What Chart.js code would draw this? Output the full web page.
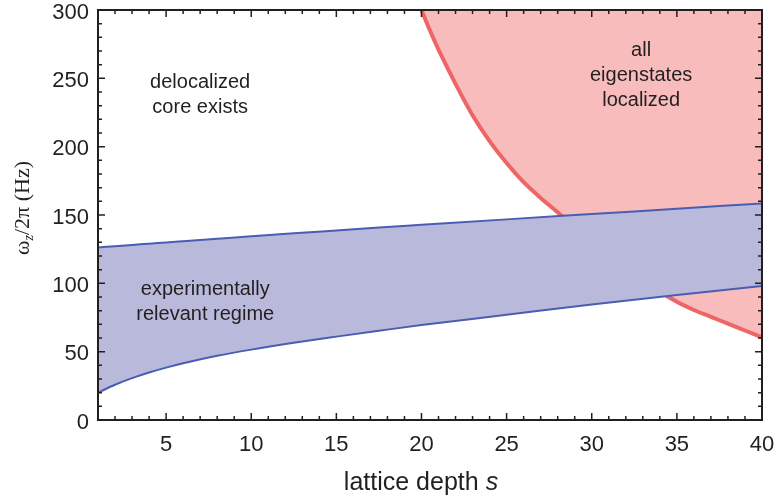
<!DOCTYPE html>
<html>
<head>
<meta charset="utf-8">
<script src="https://cdn.jsdelivr.net/npm/chart.js@4.4.0/dist/chart.umd.min.js"></script>
<style>
    html, body { margin: 0; padding: 0; background: #fff; }
    #wrap { width: 778px; height: 500px; }
</style>
</head>
<body>
<div id="wrap"><canvas id="chart"></canvas></div>
<script>
// lattice depth s sampled for the experimental band
const bandDepth = [1, 2, 3, 4, 5, 6, 8, 10, 12.5, 15, 17.5, 20, 25, 30, 35, 40]
const bandLower = [20, 25.8, 30.6, 34.7, 38.3, 41.5, 47, 51.5, 56.5, 61, 65.3, 69.5, 77, 84.5, 91.5, 98]
const bandUpper = [126.3, 127.2, 128.1, 129, 129.9, 130.8, 132.6, 134.4, 136.6, 138.7, 140.8, 142.8, 146.8, 150.7, 154.6, 158.5]

// boundary above which all eigenstates are localized
const redDepth = [20, 20.5, 21, 22, 23, 24, 25, 26, 27, 28, 29, 30, 31, 32, 33, 34, 35, 36, 37, 38, 39, 40]
const redBoundary = [300, 285, 271, 246, 223, 204, 188, 174, 162.5, 152, 141, 131, 121, 112, 103, 94, 86.5, 80.5, 75.5, 70.5, 65.5, 60.5]

const xTicks = [5, 10, 15, 20, 25, 30, 35, 40]
const yTicks = [0, 50, 100, 150, 200, 250, 300]

const regionLabels = [
    {lines: ['delocalized', 'core exists'], s: 7.0, y: 238},
    {lines: ['all', 'eigenstates', 'localized'], s: 32.9, y: 252},
    {lines: ['experimentally', 'relevant regime'], s: 7.3, y: 86.5}
]

const sans = "'Liberation Sans', Arial, Helvetica, sans-serif"
const ink = '#231f20'

const toPoints = (xs, ys) => xs.map((x, i) => ({x: x, y: ys[i]}))

// frame with inward ticks on all four sides
const framePlugin = {
    id: 'frame',
    afterDraw(chart) {
        const {ctx, chartArea: a, scales: {x, y}} = chart
        ctx.save()
        ctx.strokeStyle = ink
        ctx.lineWidth = 1.5
        ctx.beginPath()
        for (let s = 1; s <= 40; s++) {
            const px = x.getPixelForValue(s)
            const len = s % 5 === 0 ? 7 : 4
            ctx.moveTo(px, a.bottom); ctx.lineTo(px, a.bottom - len)
            ctx.moveTo(px, a.top); ctx.lineTo(px, a.top + len)
        }
        for (let v = 0; v <= 300; v += 10) {
            const py = y.getPixelForValue(v)
            const len = v % 50 === 0 ? 7 : 4
            ctx.moveTo(a.left, py); ctx.lineTo(a.left + len, py)
            ctx.moveTo(a.right, py); ctx.lineTo(a.right - len, py)
        }
        ctx.stroke()
        ctx.lineWidth = 2
        ctx.strokeRect(a.left, a.top, a.right - a.left, a.bottom - a.top)

        // x axis title with italic s
        const base = 490
        ctx.fillStyle = ink
        ctx.textBaseline = 'alphabetic'
        ctx.font = `25px ${sans}`
        const t1 = 'lattice depth '
        const w1 = ctx.measureText(t1).width
        ctx.font = `italic 25px ${sans}`
        const w2 = ctx.measureText('s').width
        let start = 421 - (w1 + w2) / 2
        ctx.font = `25px ${sans}`
        ctx.textAlign = 'left'
        ctx.fillText(t1, start, base)
        ctx.font = `italic 25px ${sans}`
        ctx.fillText('s', start + w1, base)

        // y axis title, serif, rotated
        const serif = "'Liberation Serif', 'DejaVu Serif', serif"
        ctx.translate(29, 208)
        ctx.rotate(-Math.PI / 2)
        const parts = [
            {t: 'ω', f: `22px ${serif}`, dy: 0},
            {t: 'z', f: `italic 14px ${serif}`, dy: 4},
            {t: '/2π (Hz)', f: `22px ${serif}`, dy: 0}
        ]
        let total = 0
        parts.forEach(p => { ctx.font = p.f; p.w = ctx.measureText(p.t).width; total += p.w })
        let cx = -total / 2
        parts.forEach(p => {
            ctx.font = p.f
            ctx.fillText(p.t, cx, p.dy)
            cx += p.w
        })
        ctx.restore()
    }
}

// region annotations placed in data coordinates
const labelPlugin = {
    id: 'regionLabels',
    afterDatasetsDraw(chart) {
        const {ctx, scales: {x, y}} = chart
        ctx.save()
        ctx.fillStyle = ink
        ctx.font = `20px ${sans}`
        ctx.textAlign = 'center'
        ctx.textBaseline = 'middle'
        const lh = 25
        regionLabels.forEach(r => {
            const px = x.getPixelForValue(r.s)
            const py = y.getPixelForValue(r.y)
            const top = py - (r.lines.length - 1) * lh / 2
            r.lines.forEach((line, i) => ctx.fillText(line, px, top + i * lh))
        })
        ctx.restore()
    }
}

new Chart(document.getElementById('chart'), {
    type: 'line',
    data: {
        datasets: [
            {
                label: 'lower',
                data: toPoints(bandDepth, bandLower),
                borderColor: '#4b5db3',
                borderWidth: 2,
                pointRadius: 0,
                cubicInterpolationMode: 'monotone',
                fill: false
            },
            {
                label: 'upper',
                data: toPoints(bandDepth, bandUpper),
                borderColor: '#4b5db3',
                borderWidth: 2,
                pointRadius: 0,
                cubicInterpolationMode: 'monotone',
                backgroundColor: '#b9badb',
                fill: 0
            },
            {
                label: 'localized',
                data: toPoints(redDepth, redBoundary),
                borderColor: '#ee6566',
                borderWidth: 4,
                pointRadius: 0,
                tension: 0.3,
                backgroundColor: '#f8bcbd',
                fill: 'end'
            }
        ]
    },
    options: {
        responsive: true,
        maintainAspectRatio: false,
        animation: false,
        events: [],
        layout: {padding: {top: 10, right: 16, left: 0, bottom: 0}},
        plugins: {
            legend: {display: false},
            tooltip: {enabled: false}
        },
        scales: {
            x: {
                type: 'linear',
                min: 1,
                max: 40,
                afterBuildTicks: axis => { axis.ticks = xTicks.map(v => ({value: v})) },
                afterFit: axis => {
                    axis.height = 80
                    axis.paddingLeft = 0
                    axis.paddingRight = 0
                },
                grid: {display: false, drawTicks: false},
                border: {display: false},
                ticks: {color: ink, font: {family: sans, size: 22}, padding: 12, maxRotation: 0}
            },
            y: {
                min: 0,
                max: 300,
                afterBuildTicks: axis => { axis.ticks = yTicks.map(v => ({value: v})) },
                afterFit: axis => {
                    axis.width = 98
                    axis.paddingTop = 0
                    axis.paddingBottom = 0
                },
                grid: {display: false, drawTicks: false},
                border: {display: false},
                ticks: {color: ink, font: {family: sans, size: 22}, padding: 9, labelOffset: 2.5}
            }
        }
    },
    plugins: [framePlugin, labelPlugin]
})
</script>
</body>
</html>
